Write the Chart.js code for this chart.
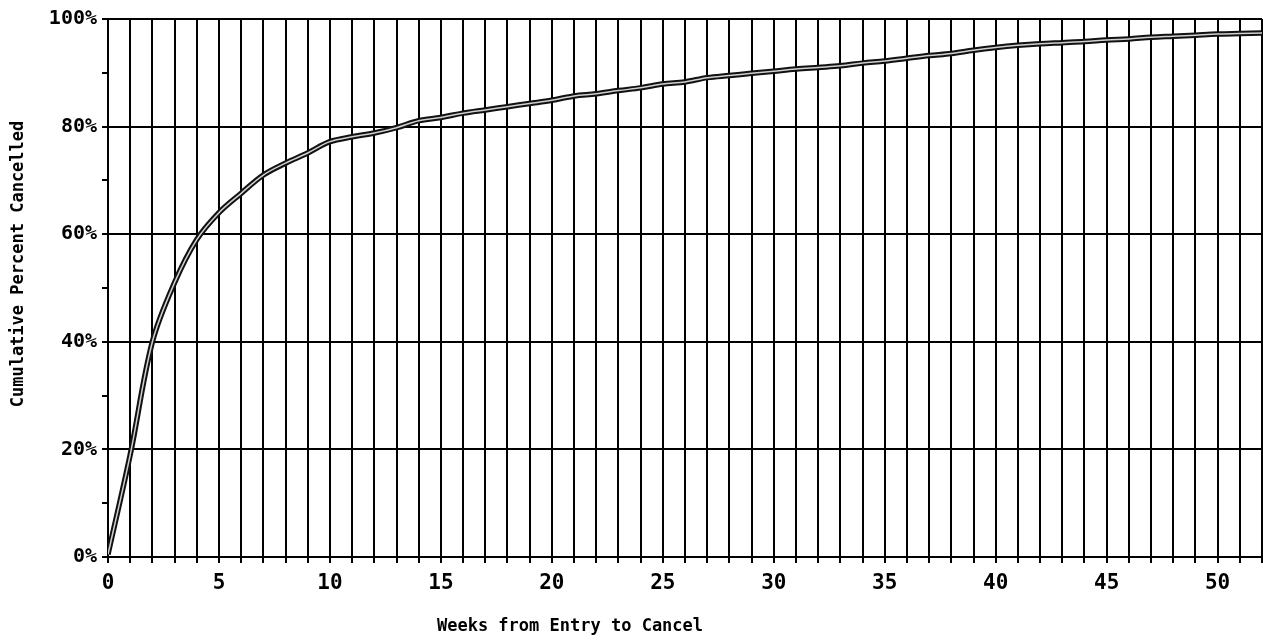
<!DOCTYPE html>
<html>
<head>
<meta charset="utf-8">
<script src="https://cdn.jsdelivr.net/npm/chart.js@4"></script>
<style>
  html, body { margin: 0; padding: 0; background: #fff; overflow: hidden; }
  #wrap { width: 1270px; height: 643px; }
</style>
</head>
<body>
<div id="wrap"><canvas id="cancelChart"></canvas></div>
<script>
// weeks 0..52
const weeks = [0,1,2,3,4,5,6,7,8,9,10,11,12,13,14,15,16,17,18,19,20,21,22,23,24,25,26,
  27,28,29,30,31,32,33,34,35,36,37,38,39,40,41,42,43,44,45,46,47,48,49,50,51,52];
// cumulative percent cancelled
const cumPct = [0.5,19,40,51,59,64,67.6,71,73.2,75.1,77.2,78.1,78.8,79.8,81.1,81.7,82.5,83.1,83.7,84.3,84.9,
  85.7,86.1,86.7,87.2,87.9,88.3,89.1,89.5,89.9,90.3,90.7,91.0,91.3,91.8,92.2,92.7,93.2,93.6,94.2,
  94.7,95.1,95.4,95.6,95.8,96.1,96.3,96.6,96.8,97.0,97.2,97.3,97.4];
const xTickLabels = [0,5,10,15,20,25,30,35,40,45,50];
const yTickLabels = [0,20,40,60,80,100];

const xTitle = "Weeks from Entry to Cancel";
const yTitle = "Cumulative Percent Cancelled";
const FONT = "'DejaVu Sans Mono', 'Liberation Mono', monospace";

const pts = weeks.map((w, i) => ({ x: w, y: cumPct[i] }));

// axis titles, drawn by hand because they are not centred on the plot
const titlesPlugin = {
  id: "titles",
  afterDraw(chart) {
    const ctx = chart.ctx;
    ctx.save();
    ctx.fillStyle = "#000";
    ctx.font = "bold 17px " + FONT;
    ctx.textAlign = "center";
    ctx.textBaseline = "middle";
    ctx.fillText(xTitle, 570, 627);
    ctx.translate(19, 264);
    ctx.rotate(-Math.PI / 2);
    ctx.fillText(yTitle, 0, 0);
    ctx.restore();
  }
};

new Chart(document.getElementById("cancelChart").getContext("2d"), {
  type: "line",
  data: {
    datasets: [
      { data: pts, borderColor: "#d0d0d0", borderWidth: 1.5, pointRadius: 0, tension: 0.35, order: 0 },
      { data: pts, borderColor: "#111", borderWidth: 5.5, pointRadius: 0, tension: 0.35, order: 1 }
    ]
  },
  options: {
    responsive: true,
    maintainAspectRatio: false,
    animation: false,
    layout: { padding: { top: 19, right: 0, left: 0, bottom: 0 } },
    plugins: { legend: { display: false }, tooltip: { enabled: false } },
    scales: {
      x: {
        type: "linear", min: 0, max: 52,
        afterFit: s => { s.height = 86; },
        border: { color: "#000", width: 2 },
        grid: { color: "#000", lineWidth: 2, tickLength: 6, tickColor: "#000" },
        ticks: {
          stepSize: 1, autoSkip: false, maxRotation: 0, padding: 8, color: "#000",
          font: { family: FONT, size: 21, weight: "bold" },
          callback: v => xTickLabels.includes(v) ? String(v) : ""
        }
      },
      y: {
        min: 0, max: 100,
        afterFit: s => { s.width = 108; },
        border: { color: "#000", width: 2 },
        grid: {
          lineWidth: 2, tickLength: 6, tickColor: "#000",
          color: c => (c.tick && c.tick.value % 20 === 0) ? "#000" : "rgba(0,0,0,0)"
        },
        ticks: {
          stepSize: 10, padding: 5, color: "#000",
          font: { family: FONT, size: 20, weight: "bold" },
          callback: v => yTickLabels.includes(v) ? v + "%" : ""
        }
      }
    }
  },
  plugins: [titlesPlugin]
});
</script>
</body>
</html>
